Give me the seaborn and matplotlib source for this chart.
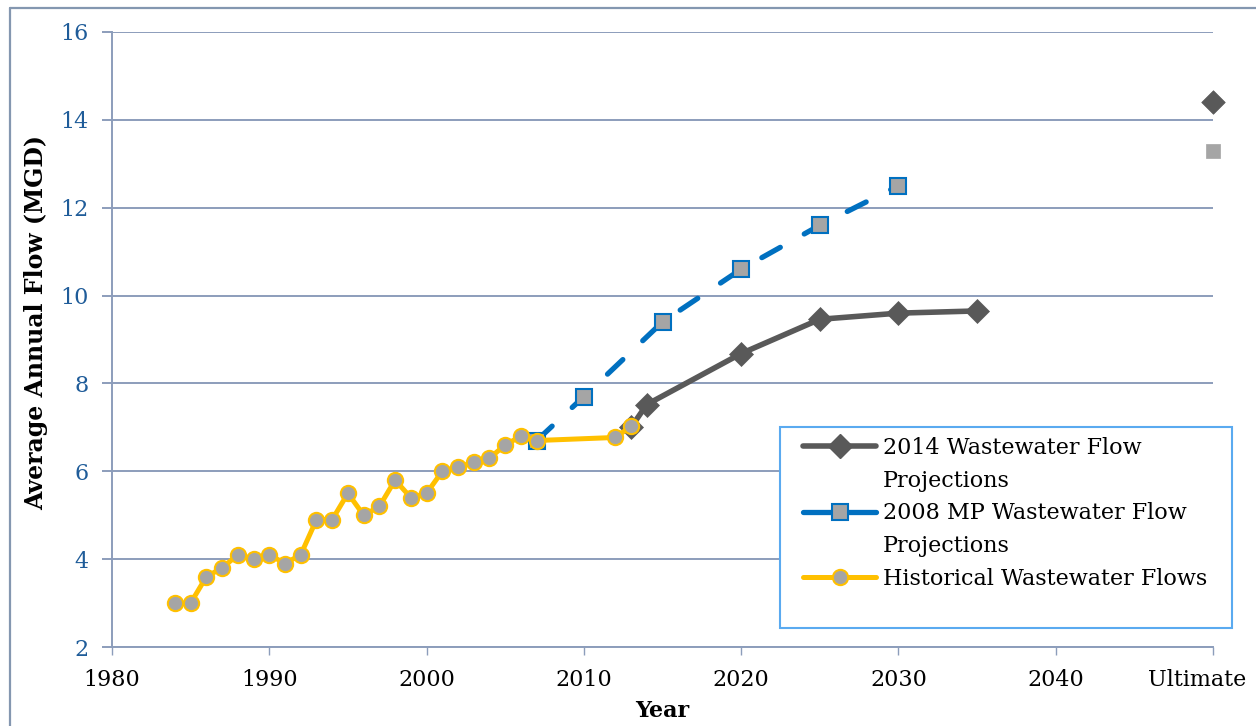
import matplotlib
matplotlib.use("Agg")
import matplotlib.pyplot as plt
from matplotlib.lines import Line2D
from matplotlib.patches import Rectangle
from matplotlib.transforms import ScaledTranslation
import seaborn as sns

# ---- data -------------------------------------------------------------
hist_years = [1984, 1985, 1986, 1987, 1988, 1989, 1990, 1991, 1992, 1993,
              1994, 1995, 1996, 1997, 1998, 1999, 2000, 2001, 2002, 2003,
              2004, 2005, 2006, 2007, 2012, 2013]
hist_flow = [3.0, 3.0, 3.6, 3.8, 4.1, 4.0, 4.1, 3.9, 4.1, 4.9,
             4.9, 5.5, 5.0, 5.2, 5.8, 5.4, 5.5, 6.0, 6.1, 6.2,
             6.3, 6.6, 6.8, 6.7, 6.77, 7.02]

mp2008_years = [2007, 2010, 2015, 2020, 2025, 2030]
mp2008_flow = [6.7, 7.7, 9.4, 10.6, 11.6, 12.5]

proj2014_years = [2013, 2014, 2020, 2025, 2030, 2035]
proj2014_flow = [7.0, 7.52, 8.68, 9.46, 9.6, 9.65]

ultimate_year = 2050
ultimate_2014 = 14.4
ultimate_2008 = 13.3

x_ticks = [1980, 1990, 2000, 2010, 2020, 2030, 2040, 2050]
x_tick_labels = ["1980", "1990", "2000", "2010", "2020", "2030", "2040", "Ultimate"]
y_ticks = [2, 4, 6, 8, 10, 12, 14, 16]

series_labels = ["2014 Wastewater Flow\nProjections",
                 "2008 MP Wastewater Flow\nProjections",
                 "Historical Wastewater Flows"]

# ---- style ------------------------------------------------------------
sns.set_theme(style="white")
plt.rcParams["font.family"] = ["DejaVu Serif"]

GRAY_DARK = "#595959"
GRAY_FILL = "#A5A5A5"
BLUE = "#0070C0"
GOLD = "#FFC000"
GRID = "#8C9DBB"
Y_TICK_COLOR = "#1F5C99"

W, H = 1256, 726
fig = plt.figure(figsize=(W / 100, H / 100), dpi=100)
ax = fig.add_axes([112 / W, 1 - 647 / H, (1213 - 112) / W, (647 - 32) / H])

# 2014 projections
sns.lineplot(x=proj2014_years, y=proj2014_flow, ax=ax, color=GRAY_DARK,
             linewidth=4.0, marker="D", markersize=12,
             markerfacecolor=GRAY_DARK, markeredgecolor=GRAY_DARK,
             markeredgewidth=0.5, estimator=None, sort=False, legend=False,
             zorder=3)

# 2008 master plan projections (dashed)
sns.lineplot(x=mp2008_years, y=mp2008_flow, ax=ax, color=BLUE,
             linewidth=3.8, marker="s", markersize=12,
             markerfacecolor=GRAY_FILL, markeredgecolor=BLUE,
             markeredgewidth=1.5, estimator=None, sort=False, legend=False,
             zorder=4)
mp_line = ax.lines[-1]
mp_line.set_dashes((4.0, 5.2))
mp_line.set_dash_capstyle("round")

# historical flows
sns.lineplot(x=hist_years, y=hist_flow, ax=ax, color=GOLD,
             linewidth=3.6, marker="o", markersize=11,
             markerfacecolor=GRAY_FILL, markeredgecolor=GOLD,
             markeredgewidth=1.5, estimator=None, sort=False, legend=False,
             zorder=5)

# ultimate values
sns.scatterplot(x=[ultimate_year], y=[ultimate_2014], ax=ax, marker="D",
                s=12 ** 2, color=GRAY_DARK, edgecolor=GRAY_DARK,
                linewidth=0.5, legend=False, clip_on=False, zorder=6)
sns.scatterplot(x=[ultimate_year], y=[ultimate_2008], ax=ax, marker="s",
                s=10 ** 2, color=GRAY_FILL, edgecolor=GRAY_FILL,
                linewidth=0.5, legend=False, clip_on=False, zorder=6)

# ---- axes -------------------------------------------------------------
ax.set_xlim(1980, 2050)
ax.set_ylim(2, 16)
ax.set_xticks(x_ticks)
ax.set_xticklabels(x_tick_labels)
ax.set_yticks(y_ticks)
ax.set_yticklabels([str(v) for v in y_ticks])

ax.grid(axis="y", color=GRID, linewidth=1.4, zorder=0)
ax.grid(axis="x", visible=False)
ax.set_axisbelow(True)
for side in ("top", "right"):
    ax.spines[side].set_visible(False)
for side in ("left", "bottom"):
    ax.spines[side].set_color(GRID)
    ax.spines[side].set_linewidth(1.4)

ax.tick_params(axis="y", which="major", direction="out", length=7,
               width=1.4, color=GRID, labelcolor=Y_TICK_COLOR,
               labelsize=16, pad=10, left=True)
ax.tick_params(axis="x", which="major", direction="out", length=6,
               width=1.0, color=GRID, labelcolor="black",
               labelsize=16, pad=10, bottom=True)

# the last category label sits flush against the right edge of the chart
last = ax.get_xticklabels()[-1]
last.set_horizontalalignment("right")
last.set_transform(last.get_transform()
                   + ScaledTranslation(0.33, 0, fig.dpi_scale_trans))

ax.set_xlabel("Year", fontsize=16, fontweight="bold", labelpad=6,
              color="black")
ax.set_ylabel("Average Annual Flow (MGD)", fontsize=17, fontweight="bold",
              color="black")
ax.yaxis.set_label_coords(-0.058, 0.528)

# ---- legend -----------------------------------------------------------
box = Rectangle((780 / W, 1 - 628 / H), 452 / W, 201 / H,
                transform=fig.transFigure, facecolor="white",
                edgecolor="#5AAAF0", linewidth=1.5, zorder=2)
fig.add_artist(box)

blank = Line2D([], [], linestyle="none")
h2014 = Line2D([], [], color=GRAY_DARK, linewidth=4.0, marker="D",
               markersize=12, markerfacecolor=GRAY_DARK,
               markeredgecolor=GRAY_DARK)
h2008 = Line2D([], [], color=BLUE, linewidth=3.8, marker="s",
               markersize=11, markerfacecolor=GRAY_FILL,
               markeredgecolor=BLUE, markeredgewidth=1.5)
hhist = Line2D([], [], color=GOLD, linewidth=3.6, marker="o",
               markersize=11, markerfacecolor=GRAY_FILL,
               markeredgecolor=GOLD, markeredgewidth=1.5)

leg_handles = [h2014, blank, h2008, blank, hhist]
l1a, l1b = series_labels[0].split("\n")
l2a, l2b = series_labels[1].split("\n")
leg_labels = [l1a, l1b, l2a, l2b, series_labels[2]]

leg = fig.legend(leg_handles, leg_labels, loc="upper left",
                 bbox_to_anchor=(803 / W, 1 - 437 / H),
                 frameon=False, fontsize=16, handlelength=3.3,
                 handletextpad=0.3, labelspacing=0.48, borderpad=0,
                 borderaxespad=0, labelcolor="black")
leg.set_zorder(5)

# ---- outer chart border ----------------------------------------------
fig.add_artist(Line2D([10 / W, 10 / W], [0, 1 - 8 / H],
                      transform=fig.transFigure, color="#8497B0",
                      linewidth=1.6))
fig.add_artist(Line2D([10 / W, 1], [1 - 8 / H, 1 - 8 / H],
                      transform=fig.transFigure, color="#8497B0",
                      linewidth=1.6))

fig.savefig("out.png", dpi=100)
